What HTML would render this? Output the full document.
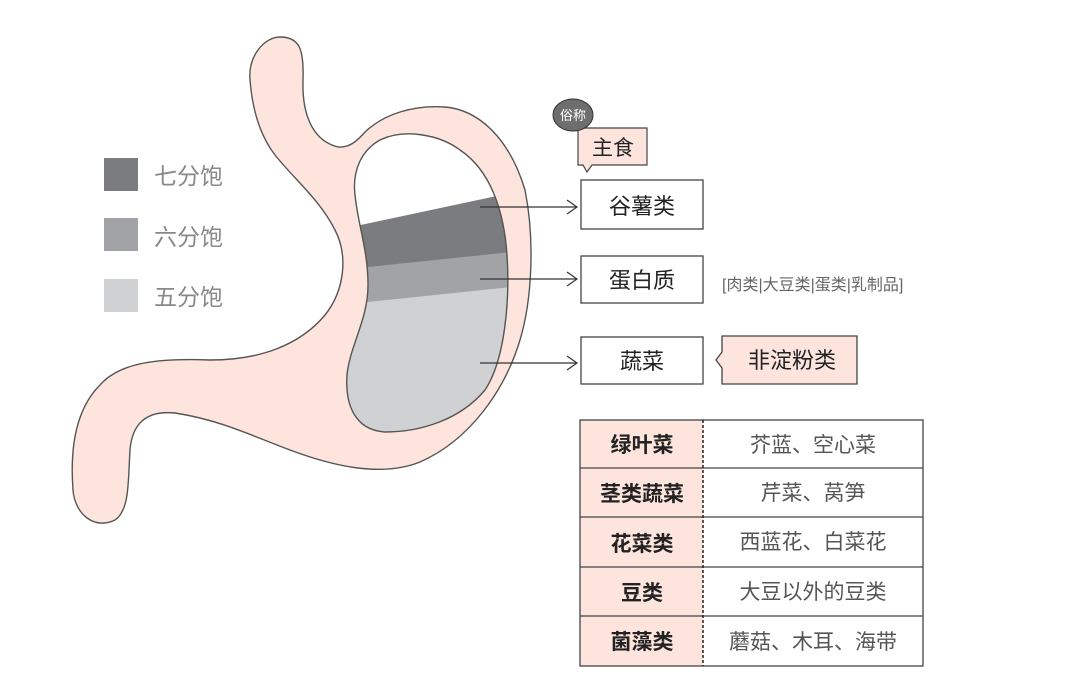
<!DOCTYPE html>
<html><head><meta charset="utf-8"><style>
body{margin:0;background:#fff;}
svg text{font-family:"Liberation Sans","Noto Sans CJK SC",sans-serif;}
</style></head><body>
<svg width="1080" height="691" viewBox="0 0 1080 691" xmlns="http://www.w3.org/2000/svg">
<defs><clipPath id="cav"><path d="M380,140 C362,150 352,170 355,195 C358,225 368,250 368,285 C368,320 350,345 347,375 C345,405 355,430 385,432 C420,432 460,420 485,390 C505,360 510,300 507,255 C504,210 490,170 460,150 C440,135 405,128 380,140 Z"/></clipPath></defs>
<path d="M250,80 C248,55 265,37 280,37 C300,37 304,50 303,80 C302,110 310,140 338,147 C350,148 358,140 365,132 C385,113 415,105 445,107 C480,110 510,140 525,190 C535,240 532,300 520,340 C505,390 470,440 420,462 C380,478 330,465 290,450 C250,435 220,420 175,413 C145,410 132,425 130,450 C128,480 130,510 115,520 C95,530 75,515 73,490 C70,450 75,410 100,385 C120,362 160,358 210,360 C260,360 300,345 325,315 C345,290 348,255 335,230 C320,200 295,180 275,155 C258,133 252,105 250,80 Z" fill="#fde4dc" stroke="#555" stroke-width="1.4"/>
<path d="M380,140 C362,150 352,170 355,195 C358,225 368,250 368,285 C368,320 350,345 347,375 C345,405 355,430 385,432 C420,432 460,420 485,390 C505,360 510,300 507,255 C504,210 490,170 460,150 C440,135 405,128 380,140 Z" fill="#fff"/>
<g clip-path="url(#cav)">
<polygon points="300,238 497,196 560,196 560,500 300,500" fill="#d0d1d3"/>
<polygon points="300,238 497,196 560,196 560,282 368,302 300,310" fill="#a2a3a6"/>
<polygon points="300,238 497,196 560,196 560,247 368,267 300,272" fill="#7b7c80"/>
</g>
<path d="M380,140 C362,150 352,170 355,195 C358,225 368,250 368,285 C368,320 350,345 347,375 C345,405 355,430 385,432 C420,432 460,420 485,390 C505,360 510,300 507,255 C504,210 490,170 460,150 C440,135 405,128 380,140 Z" fill="none" stroke="#555" stroke-width="1.4"/>
<rect x="104" y="158" width="34" height="33" fill="#7b7c80"/>
<rect x="104" y="218" width="34" height="33" fill="#a2a3a6"/>
<rect x="104" y="279" width="34" height="33" fill="#d0d1d3"/>
<text x="154" y="184" font-size="23" fill="#888">七分饱</text>
<text x="154" y="245" font-size="23" fill="#888">六分饱</text>
<text x="154" y="305" font-size="23" fill="#888">五分饱</text>
<g stroke="#333" stroke-width="1.2" fill="none">
<line x1="480" y1="207" x2="577" y2="207"/><polyline points="567,200 577,207 567,214"/>
<line x1="480" y1="279" x2="577" y2="279"/><polyline points="567,272 577,279 567,286"/>
<line x1="480" y1="363" x2="577" y2="363"/><polyline points="567,356 577,363 567,370"/>
</g>
<g fill="#fff" stroke="#444" stroke-width="1.3">
<rect x="581" y="180" width="122" height="49"/>
<rect x="581" y="256" width="122" height="47"/>
<rect x="581" y="337" width="122" height="47"/>
</g>
<text x="642" y="214" font-size="22" text-anchor="middle" fill="#222">谷薯类</text>
<text x="642" y="288" font-size="22" text-anchor="middle" fill="#222">蛋白质</text>
<text x="642" y="369" font-size="22" text-anchor="middle" fill="#222">蔬菜</text>
<text x="722" y="290" font-size="16" fill="#666">[肉类|大豆类|蛋类|乳制品]</text>
<path d="M722,336 L857,336 L857,384 L722,384 L722,368 L716,360 L722,352 Z" fill="#fde4dc" stroke="#444" stroke-width="1.3"/>
<text x="792" y="368" font-size="22" text-anchor="middle" fill="#222">非淀粉类</text>
<path d="M578,128 L647,128 L647,165 L592,165 L587,172 L583,165 L578,165 Z" fill="#fde4dc" stroke="#444" stroke-width="1.2"/>
<text x="613" y="155" font-size="21" text-anchor="middle" fill="#222">主食</text>
<ellipse cx="573" cy="115" rx="20" ry="16" fill="#6e6e6e" stroke="#333"/>
<text x="573" y="120" font-size="13" text-anchor="middle" fill="#fff">俗称</text>
<rect x="580" y="420" width="123" height="246" fill="#fde4dc"/>
<rect x="580" y="420" width="343" height="246" fill="none" stroke="#444" stroke-width="1.3"/>
<g stroke="#444" stroke-width="1.3">
<line x1="580" y1="468" x2="923" y2="468"/>
<line x1="580" y1="517" x2="923" y2="517"/>
<line x1="580" y1="567" x2="923" y2="567"/>
<line x1="580" y1="616" x2="923" y2="616"/>
</g>
<line x1="703" y1="420" x2="703" y2="666" stroke="#222" stroke-width="1.5" stroke-dasharray="3,2"/>
<g font-size="21" font-weight="bold" fill="#222" text-anchor="middle">
<text x="642" y="452">绿叶菜</text>
<text x="642" y="501">茎类蔬菜</text>
<text x="642" y="551">花菜类</text>
<text x="642" y="600">豆类</text>
<text x="642" y="649">菌藻类</text>
</g>
<g font-size="21" fill="#555" text-anchor="middle">
<text x="813" y="452">芥蓝、空心菜</text>
<text x="813" y="500">芹菜、莴笋</text>
<text x="813" y="549">西蓝花、白菜花</text>
<text x="813" y="599">大豆以外的豆类</text>
<text x="813" y="649">蘑菇、木耳、海带</text>
</g>
</svg>
</body></html>
